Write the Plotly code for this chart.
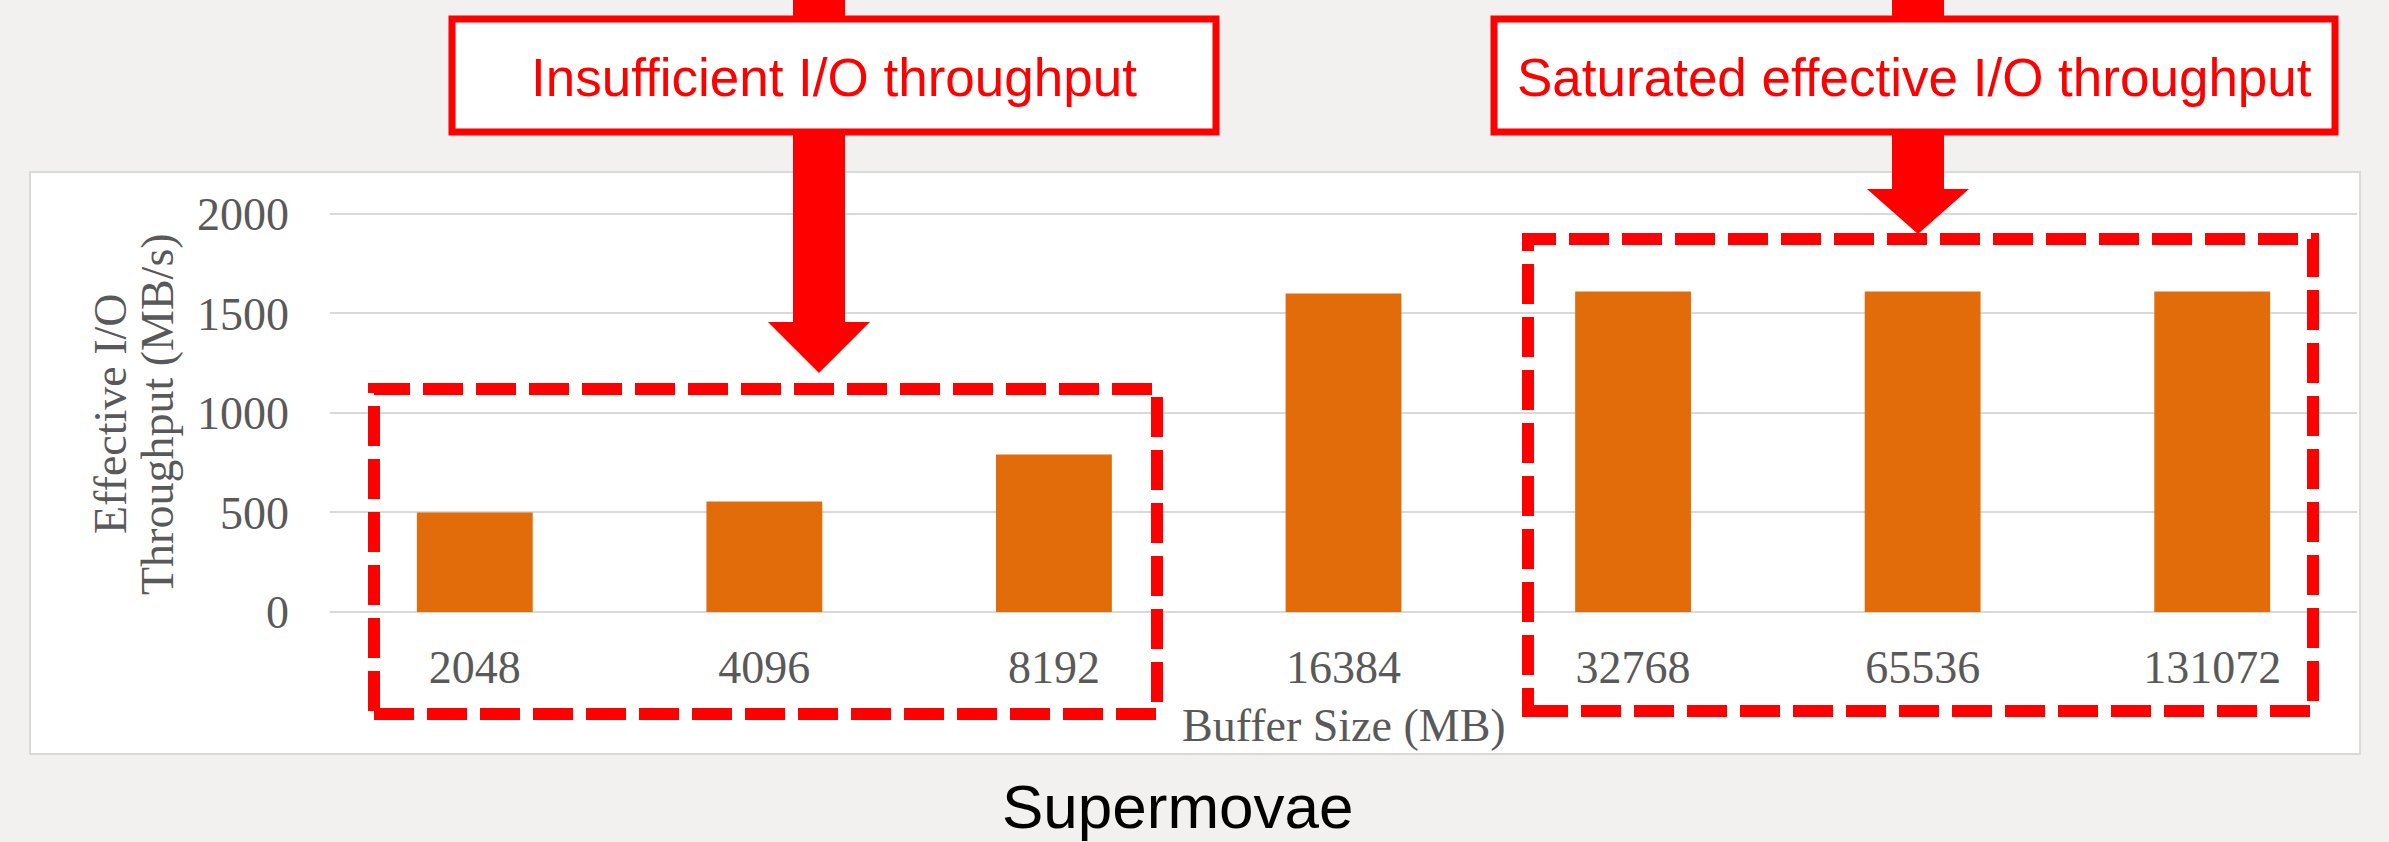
import plotly.graph_objects as go

# ---- data ----
buffer_sizes = ["2048", "4096", "8192", "16384", "32768", "65536", "131072"]
throughput = [500, 555, 792, 1600, 1610, 1610, 1610]
y_ticks = [0, 500, 1000, 1500, 2000]
x_title = "Buffer Size (MB)"
y_title_lines = ["Effective I/O", "Throughput (MB/s)"]
chart_title = "Supermovae"
callouts = ["Insufficient I/O throughput", "Saturated effective I/O throughput"]

# ---- layout geometry (pixels) ----
W, H = 2389, 842
ML, MR, MT, MB = 330, 32, 206, 230
PW = W - ML - MR
PH = H - MT - MB


def px(x):
    return (x - ML) / PW


def py(y):
    return (H - MB - y) / PH


RED = "#FF0000"
ORANGE = "#E36C0A"
GRAY_TXT = "#595959"
GRID = "#D9D9D9"
SERIF = "Liberation Serif, Times New Roman, serif"
SANS = "Liberation Sans, Arial, sans-serif"

fig = go.Figure()
fig.add_trace(go.Bar(x=buffer_sizes, y=throughput, marker_color=ORANGE,
                     marker_line_width=0, hoverinfo="skip"))

shapes = []
# white chart panel
shapes.append(dict(type="rect", xref="paper", yref="paper", layer="below",
                   x0=px(30), x1=px(2360), y0=py(754), y1=py(172),
                   fillcolor="white", line=dict(color=GRID, width=2)))

# dashed highlight rectangles
for (x0, y0, x1, y1) in [(374, 389, 1157, 714), (1528, 239, 2313, 711)]:
    shapes.append(dict(type="rect", xref="paper", yref="paper", layer="above",
                       x0=px(x0), x1=px(x1), y0=py(y1), y1=py(y0),
                       fillcolor="rgba(0,0,0,0)",
                       line=dict(color=RED, width=12, dash="40px,13px")))


def arrow_path(cx, shaft_half, head_half, top, head_top, tip):
    pts = [(cx - shaft_half, top), (cx + shaft_half, top), (cx + shaft_half, head_top),
           (cx + head_half, head_top), (cx, tip), (cx - head_half, head_top),
           (cx - shaft_half, head_top)]
    return "M " + " L ".join(f"{px(x):.5f},{py(y):.5f}" for x, y in pts) + " Z"


for (cx, head_top, tip) in [(819, 322, 373), (1918, 189, 234)]:
    shapes.append(dict(type="path", xref="paper", yref="paper", layer="above",
                       path=arrow_path(cx, 26, 51, -5, head_top, tip),
                       fillcolor=RED, line=dict(width=0)))

# callout boxes
box_geom = [(452, 19, 1216, 132), (1494, 19, 2335, 132)]
for (x0, y0, x1, y1) in box_geom:
    shapes.append(dict(type="rect", xref="paper", yref="paper", layer="above",
                       x0=px(x0), x1=px(x1), y0=py(y1), y1=py(y0),
                       fillcolor="white", line=dict(color=RED, width=7)))

annotations = []
for text, (x0, y0, x1, y1) in zip(callouts, box_geom):
    annotations.append(dict(text=text, xref="paper", yref="paper",
                            x=px((x0 + x1) / 2), y=py(77), xanchor="center", yanchor="middle",
                            showarrow=False, font=dict(family=SANS, size=53, color=RED)))

annotations.append(dict(text=chart_title, xref="paper", yref="paper",
                        x=px(1178), y=py(806), xanchor="center", yanchor="middle",
                        showarrow=False, font=dict(family=SANS, size=62, color="black")))

annotations.append(dict(text=x_title, xref="paper", yref="paper",
                        x=0.5, y=py(725), xanchor="center", yanchor="middle",
                        showarrow=False, font=dict(family=SERIF, size=46, color=GRAY_TXT)))

for line, cx in zip(y_title_lines, [110, 157]):
    annotations.append(dict(text=line, xref="paper", yref="paper", textangle=-90,
                            x=px(cx), y=py(414), xanchor="center", yanchor="middle",
                            showarrow=False, font=dict(family=SERIF, size=46, color=GRAY_TXT)))

fig.update_layout(
    width=W, height=H,
    margin=dict(l=ML, r=MR, t=MT, b=MB, autoexpand=False),
    paper_bgcolor="#F2F1EF",
    plot_bgcolor="white",
    showlegend=False,
    bargap=0.6,
    shapes=shapes,
    annotations=annotations,
    xaxis=dict(type="category", showgrid=False, showline=False, zeroline=False,
               ticks="", ticklabelstandoff=24,
               tickfont=dict(family=SERIF, size=46, color=GRAY_TXT)),
    yaxis=dict(range=[0, 2040], tickvals=y_ticks, showgrid=True, gridcolor=GRID,
               gridwidth=2, zeroline=True, zerolinecolor=GRID, zerolinewidth=2,
               showline=False, ticks="", ticklabelstandoff=40,
               tickfont=dict(family=SERIF, size=46, color=GRAY_TXT)),
)

fig.write_html("out.html", config={"displayModeBar": False},
               post_script="document.body.style.margin='0';document.body.style.overflow='hidden';")
